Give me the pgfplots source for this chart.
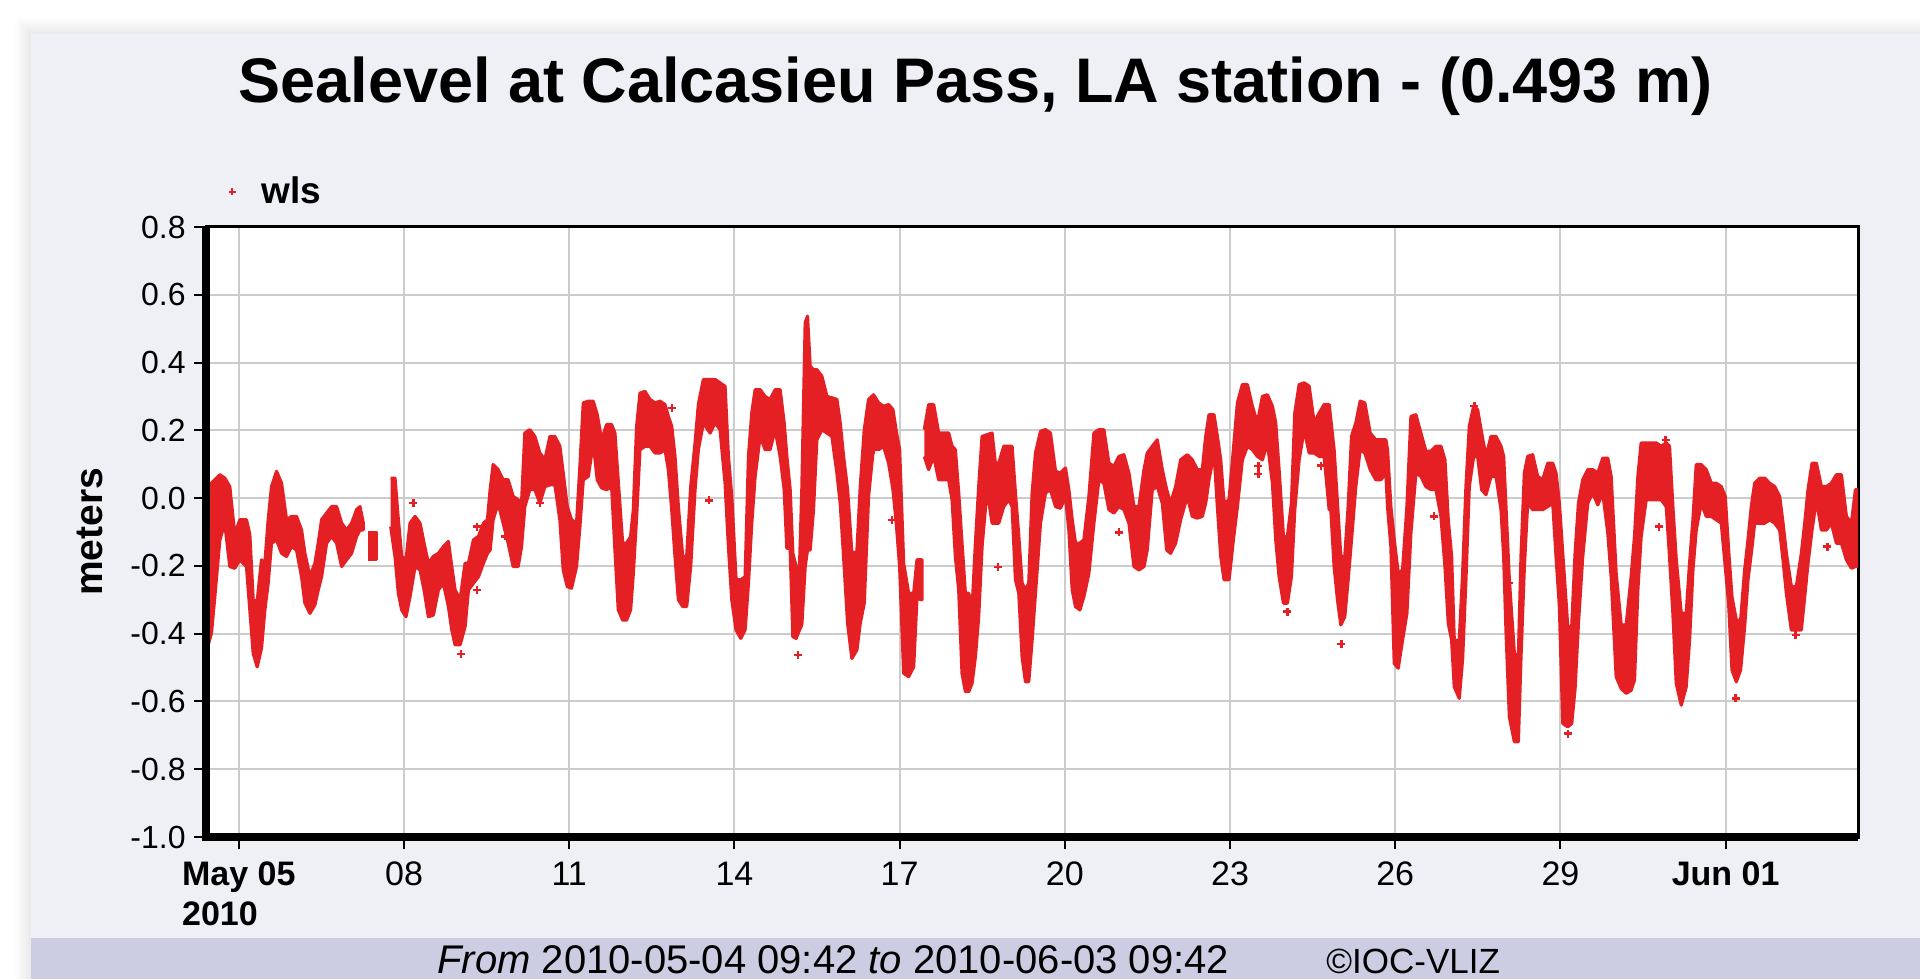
\documentclass[border=0pt]{standalone}
\usepackage{fontspec}
\setmainfont{Liberation Sans}
\usepackage{pgfplots}
\pgfplotsset{compat=1.18}
\usepackage{pgfplotstable}
\definecolor{wlsred}{RGB}{228,32,36}
\definecolor{panel}{RGB}{239,239,246}
\definecolor{bandc}{RGB}{204,204,226}
\definecolor{gridgray}{RGB}{204,204,204}

% d = days since 2010-05-01 00:00; t / b = top and bottom of the dense band of readings (m)
\pgfplotstableread{
d t b
3.443 -0.103 -0.433
3.503 0.044 -0.399
3.564 0.054 -0.291
3.655 0.069 -0.123
3.745 0.059 -0.074
3.836 0.034 -0.202
3.927 -0.108 -0.207
4.018 -0.064 -0.182
4.139 -0.064 -0.202
4.200 -0.108 -0.330
4.261 -0.300 -0.458
4.333 -0.305 -0.498
4.412 -0.182 -0.443
4.473 -0.192 -0.330
4.533 -0.064 -0.251
4.594 0.034 -0.133
4.685 0.079 -0.123
4.776 0.044 -0.163
4.867 -0.064 -0.172
4.958 -0.054 -0.143
5.048 -0.054 -0.153
5.139 -0.094 -0.232
5.200 -0.163 -0.310
5.291 -0.232 -0.340
5.382 -0.192 -0.315
5.442 -0.133 -0.271
5.503 -0.064 -0.232
5.594 -0.044 -0.133
5.685 -0.025 -0.113
5.776 -0.025 -0.133
5.867 -0.074 -0.202
5.958 -0.094 -0.182
6.048 -0.074 -0.163
6.139 -0.034 -0.113
6.200 -0.025 -0.094
6.261 -0.074 -0.094
}\segA

\pgfplotstableread{
d t b
6.352 -0.103 -0.182
6.503 -0.103 -0.182
}\segB

\pgfplotstableread{
d t b
6.758 0.059 -0.084
6.836 0.059 -0.172
6.897 -0.064 -0.281
6.958 -0.172 -0.330
7.036 -0.182 -0.350
7.109 -0.074 -0.291
7.200 -0.054 -0.202
7.291 -0.074 -0.212
7.364 -0.133 -0.271
7.442 -0.192 -0.350
7.533 -0.172 -0.345
7.624 -0.163 -0.271
7.715 -0.143 -0.251
7.806 -0.128 -0.320
7.867 -0.202 -0.389
7.927 -0.271 -0.433
8.018 -0.300 -0.433
8.109 -0.192 -0.379
8.170 -0.192 -0.271
8.261 -0.123 -0.251
8.352 -0.113 -0.232
8.442 -0.074 -0.192
8.515 -0.064 -0.163
8.564 0.025 -0.153
8.618 0.099 -0.064
8.709 0.084 -0.015
8.800 0.054 -0.074
8.891 0.054 -0.133
8.982 0.005 -0.202
9.073 -0.005 -0.202
9.134 -0.015 -0.143
9.194 0.192 -0.025
9.285 0.202 0.025
9.376 0.182 0.025
9.467 0.133 -0.015
9.558 0.113 0.034
9.649 0.182 0.039
9.740 0.182 0.039
9.830 0.153 -0.064
9.891 0.074 -0.212
9.964 -0.025 -0.261
10.042 -0.064 -0.266
10.133 -0.074 -0.202
10.194 0.094 -0.084
10.255 0.281 0.054
10.346 0.286 0.064
10.436 0.286 0.163
10.509 0.246 0.054
10.588 0.172 0.030
10.679 0.217 0.025
10.770 0.217 0.034
10.830 0.192 -0.153
10.891 0.049 -0.330
10.970 -0.133 -0.360
11.042 -0.133 -0.360
11.115 -0.113 -0.330
11.164 -0.034 -0.222
11.224 0.212 -0.054
11.285 0.310 0.143
11.376 0.315 0.153
11.467 0.291 0.153
11.558 0.281 0.133
11.648 0.286 0.133
11.739 0.276 0.143
11.800 0.241 0.084
11.861 0.212 -0.034
11.921 0.123 -0.172
11.982 -0.025 -0.300
12.061 -0.172 -0.320
12.133 -0.172 -0.320
12.206 0.034 -0.202
12.285 0.163 0.025
12.345 0.276 0.143
12.436 0.350 0.222
12.558 0.350 0.192
12.649 0.350 0.222
12.739 0.340 0.202
12.830 0.330 0.044
12.891 0.123 -0.143
12.952 0.005 -0.300
13.030 -0.241 -0.389
13.115 -0.241 -0.414
13.194 -0.232 -0.389
13.255 0.123 -0.251
13.315 0.251 -0.074
13.376 0.320 0.064
13.467 0.320 0.182
13.558 0.300 0.143
13.648 0.291 0.143
13.739 0.320 0.202
13.830 0.320 0.123
13.903 0.222 0.025
13.952 0.123 -0.148
14.012 0.025 -0.148
14.061 -0.163 -0.409
14.121 -0.202 -0.414
14.182 -0.202 -0.389
14.224 0.025 -0.374
14.285 0.517 -0.202
14.327 0.537 -0.153
14.376 0.389 -0.153
14.436 0.379 -0.034
14.497 0.379 0.172
14.588 0.360 0.202
14.679 0.300 0.192
14.770 0.296 0.182
14.861 0.291 0.074
14.921 0.222 -0.015
14.982 0.123 -0.172
15.055 0.025 -0.369
15.133 -0.163 -0.473
15.224 -0.158 -0.448
15.285 0.034 -0.369
15.358 0.202 -0.310
15.436 0.291 0.005
15.527 0.305 0.153
15.618 0.281 0.143
15.709 0.271 0.153
15.800 0.276 0.103
15.879 0.261 0.025
15.939 0.197 -0.074
16.000 0.143 -0.202
16.073 -0.192 -0.517
16.164 -0.281 -0.527
16.255 -0.281 -0.498
16.315 -0.182 -0.296
16.406 -0.182 -0.300
}\segC

\pgfplotstableread{
d t b
16.448 0.202 0.123
16.527 0.276 0.084
16.618 0.276 0.123
16.709 0.192 0.054
16.800 0.192 0.054
16.891 0.192 0.054
16.952 0.153 -0.005
17.012 0.143 -0.172
17.073 0.015 -0.271
17.133 -0.133 -0.517
17.194 -0.281 -0.571
17.255 -0.281 -0.571
17.315 -0.330 -0.547
17.376 -0.133 -0.468
17.436 0.034 -0.350
17.497 0.182 -0.143
17.588 0.187 0.025
17.679 0.192 -0.074
17.739 0.103 -0.074
17.800 0.103 -0.074
17.891 0.153 -0.025
17.982 0.153 -0.005
18.042 0.153 -0.025
18.103 0.015 -0.241
18.164 -0.113 -0.281
18.224 -0.251 -0.468
18.285 -0.271 -0.542
18.345 -0.251 -0.542
18.406 0.015 -0.419
18.467 0.133 -0.281
18.558 0.197 -0.074
18.648 0.202 0.015
18.739 0.192 0.025
18.831 0.079 -0.025
18.921 0.074 -0.030
19.012 0.089 0.005
19.073 0.025 -0.094
19.134 -0.064 -0.271
19.194 -0.133 -0.320
19.273 -0.133 -0.330
19.346 -0.123 -0.291
19.437 0.005 -0.222
19.528 0.192 -0.074
19.619 0.202 0.054
19.709 0.202 0.044
19.800 0.103 -0.034
19.891 0.094 -0.044
19.982 0.123 -0.025
20.073 0.128 -0.034
20.164 0.074 -0.074
20.255 -0.025 -0.202
20.346 -0.025 -0.212
20.437 0.084 -0.202
20.497 0.133 -0.153
20.588 0.153 0.025
20.679 0.172 0.034
20.770 0.084 -0.015
20.849 0.025 -0.153
20.921 -0.015 -0.163
21.012 0.034 -0.133
21.103 0.113 -0.064
21.224 0.128 0.005
21.315 0.113 -0.054
21.406 0.084 -0.059
21.497 0.084 -0.054
21.558 0.182 -0.015
21.618 0.246 0.054
21.709 0.246 0.133
21.770 0.182 -0.025
21.831 0.113 -0.172
21.891 -0.015 -0.241
21.982 -0.005 -0.241
22.061 0.143 -0.123
22.134 0.281 -0.025
22.224 0.335 0.113
22.315 0.335 0.153
22.406 0.271 0.143
22.497 0.222 0.123
22.588 0.300 0.113
22.679 0.305 0.163
22.770 0.271 0.044
22.830 0.222 -0.123
22.891 0.084 -0.232
22.970 -0.113 -0.310
23.042 -0.113 -0.310
23.115 -0.015 -0.232
23.176 0.251 -0.034
23.255 0.335 0.113
23.346 0.340 0.202
23.437 0.330 0.133
23.528 0.222 0.133
23.618 0.251 0.123
23.709 0.276 0.123
23.800 0.276 -0.034
23.830 0.232 -0.034
23.890 0.143 -0.202
23.951 -0.015 -0.300
24.012 -0.172 -0.374
24.084 -0.172 -0.350
24.145 -0.025 -0.241
24.206 0.182 -0.123
24.284 0.222 0.034
24.363 0.286 0.143
24.448 0.281 0.133
24.545 0.192 0.084
24.648 0.172 0.054
24.739 0.172 0.054
24.830 0.172 0.074
24.860 0.143 -0.025
24.921 -0.025 -0.143
24.982 -0.123 -0.488
25.054 -0.222 -0.502
25.133 -0.212 -0.419
25.212 -0.025 -0.340
25.285 0.241 -0.103
25.375 0.246 0.074
25.466 0.192 0.064
25.557 0.138 0.034
25.648 0.138 0.025
25.739 0.153 0.025
25.830 0.153 -0.054
25.903 0.113 -0.202
25.963 -0.064 -0.369
26.024 -0.172 -0.419
26.072 -0.419 -0.557
26.163 -0.419 -0.591
26.224 -0.222 -0.473
26.284 0.034 -0.241
26.345 0.212 0.034
26.424 0.271 0.123
26.496 0.261 0.123
26.569 0.192 0.025
26.648 0.123 0.010
26.739 0.182 0.064
26.830 0.182 0.064
26.921 0.153 -0.034
26.969 0.123 -0.172
27.011 -0.025 -0.389
27.072 -0.241 -0.645
27.163 -0.458 -0.719
27.236 -0.468 -0.719
27.284 -0.172 -0.468
27.345 0.074 -0.202
27.405 0.123 -0.015
27.496 0.128 -0.034
27.587 0.064 -0.034
27.678 0.054 -0.034
27.769 0.103 -0.025
27.860 0.103 -0.015
27.920 0.074 -0.172
27.981 -0.015 -0.320
28.042 -0.163 -0.665
28.133 -0.379 -0.675
28.205 -0.379 -0.665
28.266 -0.163 -0.562
28.327 -0.015 -0.369
28.405 0.054 -0.172
28.496 0.084 -0.015
28.587 0.084 0.015
28.678 0.074 -0.020
28.769 0.118 0.015
28.860 0.118 -0.103
28.921 0.064 -0.232
29.012 -0.222 -0.527
29.103 -0.374 -0.562
29.194 -0.374 -0.576
29.284 -0.232 -0.567
29.345 -0.113 -0.537
29.406 0.064 -0.271
29.466 0.163 -0.113
29.557 0.163 -0.005
29.648 0.163 -0.005
29.739 0.163 -0.005
29.830 0.153 -0.005
29.921 0.163 -0.025
29.981 0.153 -0.172
30.042 -0.025 -0.340
30.103 -0.182 -0.547
30.194 -0.340 -0.611
30.284 -0.340 -0.557
30.345 -0.192 -0.419
30.406 -0.064 -0.212
30.466 0.099 -0.094
30.557 0.099 -0.015
30.648 0.084 -0.054
30.739 0.044 -0.054
30.830 0.044 -0.064
30.921 0.034 -0.074
30.993 0.005 -0.202
31.054 -0.153 -0.310
31.115 -0.291 -0.507
31.194 -0.360 -0.542
31.272 -0.360 -0.507
31.345 -0.212 -0.379
31.406 -0.123 -0.241
31.466 -0.025 -0.163
31.527 0.044 -0.074
31.618 0.059 -0.074
31.709 0.059 -0.074
31.799 0.044 -0.064
31.890 0.034 -0.074
31.981 0.005 -0.094
32.042 -0.074 -0.182
32.103 -0.163 -0.281
32.193 -0.261 -0.389
32.284 -0.261 -0.389
32.375 -0.163 -0.389
32.436 -0.074 -0.291
32.496 0.025 -0.192
32.569 0.103 -0.094
32.648 0.103 -0.005
32.739 0.034 -0.094
32.830 0.034 -0.094
32.920 0.044 -0.074
33.011 0.069 -0.133
33.102 0.069 -0.133
33.193 -0.054 -0.182
33.284 -0.074 -0.207
33.357 0.025 -0.202
33.400 0.025 -0.202
}\segD

% outline of each band: top edge left to right, then bottom edge right to left
\pgfplotstablesort[sort key=d, sort cmp=float >]\segArev{\segA}
\pgfplotstablesort[sort key=d, sort cmp=float >]\segBrev{\segB}
\pgfplotstablesort[sort key=d, sort cmp=float >]\segCrev{\segC}
\pgfplotstablesort[sort key=d, sort cmp=float >]\segDrev{\segD}
\pgfplotstablecreatecol[create col/copy=t]{y}{\segA}
\pgfplotstablecreatecol[create col/copy=t]{y}{\segB}
\pgfplotstablecreatecol[create col/copy=t]{y}{\segC}
\pgfplotstablecreatecol[create col/copy=t]{y}{\segD}
\pgfplotstablecreatecol[create col/copy=b]{y}{\segArev}
\pgfplotstablecreatecol[create col/copy=b]{y}{\segBrev}
\pgfplotstablecreatecol[create col/copy=b]{y}{\segCrev}
\pgfplotstablecreatecol[create col/copy=b]{y}{\segDrev}
\pgfplotstablevertcat{\segA}{\segArev}
\pgfplotstablevertcat{\segB}{\segBrev}
\pgfplotstablevertcat{\segC}{\segCrev}
\pgfplotstablevertcat{\segD}{\segDrev}

\begin{document}
\begin{tikzpicture}
\fill[white] (0,0) rectangle (960pt,489.5pt);
\foreach \s in {1,...,10} {\fill[black,opacity=0.008] (15.5pt-\s*0.8pt,0) rectangle (960pt,472.5pt+\s*0.8pt);}
\fill[panel] (15.5pt,0) rectangle (960pt,472.5pt);
\fill[bandc] (15.5pt,0) rectangle (960pt,20.5pt);
\node[anchor=base west, font=\fontsize{20}{24}\selectfont, inner sep=0pt] at (218.5pt,3pt) {\textit{From} 2010-05-04 09:42 \textit{to} 2010-06-03 09:42};
\node[anchor=base west, font=\fontsize{17.5}{21}\selectfont, inner sep=0pt] at (663pt,3pt) {©IOC-VLIZ};
\begin{axis}[
  name=ax,
  at={(103pt,71pt)}, anchor=south west,
  scale only axis, width=826pt, height=305pt,
  xmin=3.404, xmax=33.404, ymin=-1, ymax=0.8,
  axis background/.style={fill=white},
  axis line style={line width=1.5pt, black},
  xtick={4,7,10,13,16,19,22,25,28,31},
  xticklabels={{\textbf{May 05}\\\textbf{2010}},08,11,14,17,20,23,26,29,\textbf{Jun 01}},
  ytick={-1,-0.8,-0.6,-0.4,-0.2,0,0.2,0.4,0.6,0.8},
  yticklabels={-1.0,-0.8,-0.6,-0.4,-0.2,0.0,0.2,0.4,0.6,0.8},
  grid=major, major grid style={gridgray, line width=1pt},
  tick align=outside, tick pos=left, major tick length=6pt,
  tick style={black, line width=1pt},
  yticklabel style={inner sep=4pt, font=\fontsize{16}{19.5}\selectfont},
  xticklabel style={align=left, yshift=-3pt, font=\fontsize{17}{20}\selectfont},
  title={Sealevel at Calcasieu Pass, LA station - (0.493 m)},
  title style={at={(axis description cs:0.4658,1.1842)}, anchor=base, font=\fontsize{31.5}{36}\selectfont\bfseries},
  ylabel={meters},
  ylabel style={at={(axis description cs:-0.0702,0.5)}, anchor=center, font=\fontsize{19.5}{23}\selectfont\bfseries},
  legend style={at={(axis description cs:0,1)}, anchor=south west, yshift=6pt, draw=none, fill=none, font=\fontsize{18.5}{22}\selectfont\bfseries},
  legend cell align=left,
]
\addlegendimage{legend image code/.code={\path[draw=none] (-10pt,0pt) (12.5pt,0pt); \draw[wlsred, line width=1pt] plot[mark=+, mark size=1.6pt] coordinates {(0pt,0pt)};}}
\addlegendentry{wls}

\addplot[fill=wlsred, draw=wlsred, line width=1.6pt, line join=round, forget plot] table[x=d,y=y]{\segA};
\addplot[fill=wlsred, draw=wlsred, line width=1.6pt, line join=round, forget plot] table[x=d,y=y]{\segB};
\addplot[fill=wlsred, draw=wlsred, line width=1.6pt, line join=round, forget plot] table[x=d,y=y]{\segC};
\addplot[fill=wlsred, draw=wlsred, line width=1.6pt, line join=round, forget plot] table[x=d,y=y]{\segD};

\addplot[only marks, mark=+, mark size=2pt, wlsred, line width=1.2pt, forget plot] coordinates {
(7.170,-0.015) (8.036,-0.460) (8.321,-0.084) (8.321,-0.271) (8.83,-0.113)
(9.467,-0.015) (11.861,0.266) (12.539,-0.007)
(14.152,-0.463) (15.527,0.143) (15.861,-0.064) (17.788,-0.204)
(19.982,-0.101) (22.515,0.094) (22.515,0.072) (23.042,-0.335) (23.649,0.096)
(24.024,-0.431) (25.708,-0.054) (26.436,0.271) (27.072,-0.251) (28.133,-0.695)
(29.787,-0.084) (29.909,0.172) (31.181,-0.591) (32.272,-0.404) (32.848,-0.143)
};
\end{axis}
\draw[line width=3.8pt, black] (ax.north west) -- (ax.south west) -- (ax.south east);
\pgfresetboundingbox
\useasboundingbox (0,0) rectangle (960pt,489.5pt);
\end{tikzpicture}
\end{document}
